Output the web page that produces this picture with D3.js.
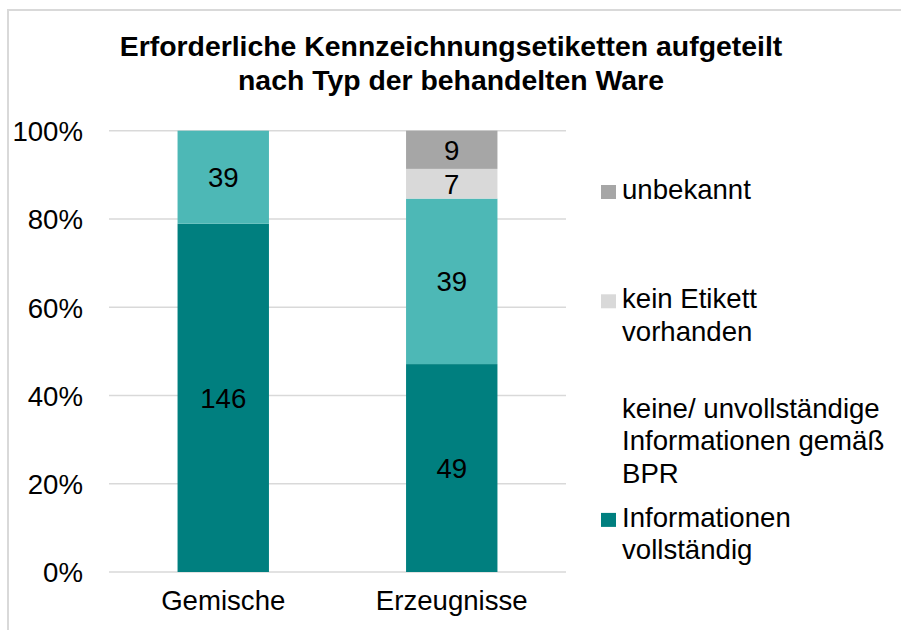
<!DOCTYPE html>
<html>
<head>
<meta charset="utf-8">
<script src="https://cdn.jsdelivr.net/npm/d3@7"></script>
<style>
  body { margin: 0; background: #fff; }
  svg { font-family: "Liberation Sans", Arial, sans-serif; }
</style>
</head>
<body>
<div id="chart"></div>
<script>
const titleLines = ['Erforderliche Kennzeichnungsetiketten aufgeteilt', 'nach Typ der behandelten Ware'];
const categories = ['Gemische', 'Erzeugnisse'];
const seriesNames = ['Informationen vollständig', 'keine/ unvollständige Informationen gemäß BPR', 'kein Etikett vorhanden', 'unbekannt'];
const legendLines = [['Informationen', 'vollständig'], ['keine/ unvollständige', 'Informationen gemäß', 'BPR'], ['kein Etikett', 'vorhanden'], ['unbekannt']];
const vollstaendig = [146, 49];
const unvollstaendig = [39, 39];
const keinEtikett = [0, 7];
const unbekannt = [0, 9];
const yTicks = [0, 0.2, 0.4, 0.6, 0.8, 1];
const colors = ['#007f7f', '#4db8b6', '#d9d9d9', '#a6a6a6'];
// the 2nd legend entry has no swatch in the original
const noSwatch = ['keine/ unvollständige Informationen gemäß BPR'];

const rows = categories.map((c, i) => ({
  cat: c,
  [seriesNames[0]]: vollstaendig[i],
  [seriesNames[1]]: unvollstaendig[i],
  [seriesNames[2]]: keinEtikett[i],
  [seriesNames[3]]: unbekannt[i]
}));

const W = 901, H = 630;
const fs = '27.6px';
const margin = { top: 130.7, right: 335, bottom: 58, left: 109 };
const width = W - margin.left - margin.right,
  height = H - margin.top - margin.bottom;

const svg = d3.select('#chart').append('svg')
  .attr('width', W).attr('height', H);

// chart frame
svg.append('rect')
  .attr('x', 8).attr('y', 10)
  .attr('width', W + 20).attr('height', H + 20)
  .attr('fill', 'none').attr('stroke', '#d9d9d9').attr('stroke-width', 2);

// title
svg.append('text')
  .attr('text-anchor', 'middle')
  .style('font-size', '28.4px').style('font-weight', 'bold')
  .selectAll('tspan').data(titleLines).join('tspan')
  .attr('x', 451).attr('y', (d, i) => 56 + i * 34)
  .text(d => d);

const g = svg.append('g').attr('transform', `translate(${margin.left},${margin.top})`);

const x = d3.scaleBand().domain(categories).range([0, width])
  .paddingInner(0.6).paddingOuter(0.3);
const y = d3.scaleLinear().domain([0, 1]).range([height, 0]);

// gridlines
g.append('g').selectAll('line').data(yTicks).join('line')
  .attr('x1', 0).attr('x2', width)
  .attr('y1', d => y(d)).attr('y2', d => y(d))
  .attr('stroke', '#d9d9d9').attr('stroke-width', 1.5);

// Y axis
g.append('g')
  .attr('transform', 'translate(-26,0)')
  .call(d3.axisLeft(y).tickValues(yTicks).tickSize(0).tickPadding(0)
    .tickFormat(d3.format('.0%')))
  .call(a => a.select('.domain').remove())
  .selectAll('text')
  .style('font-size', fs).style('font-family', '"Liberation Sans", Arial, sans-serif')
  .attr('fill', '#000').attr('dy', '0.36em');

// X axis labels
g.append('g')
  .attr('transform', `translate(0,${height})`)
  .call(d3.axisBottom(x).tickSize(0).tickPadding(28))
  .call(a => a.select('.domain').remove())
  .selectAll('text')
  .style('font-size', fs).style('font-family', '"Liberation Sans", Arial, sans-serif')
  .attr('fill', '#000').attr('dy', '0.36em');

// stacked bars (100%)
const stack = d3.stack().keys(seriesNames).offset(d3.stackOffsetExpand);
const layers = stack(rows);

const layer = g.append('g').selectAll('g').data(layers).join('g')
  .attr('fill', (d, i) => colors[i]);

layer.selectAll('rect').data(d => d).join('rect')
  .attr('x', d => x(d.data.cat))
  .attr('y', d => y(d[1]))
  .attr('width', x.bandwidth())
  .attr('height', d => y(d[0]) - y(d[1]));

// value labels
layers.forEach(l => {
  g.append('g').selectAll('text').data(l.filter(d => d.data[l.key] > 0)).join('text')
    .attr('x', d => x(d.data.cat) + x.bandwidth() / 2)
    .attr('y', d => (y(d[0]) + y(d[1])) / 2)
    .attr('dy', '0.36em')
    .attr('text-anchor', 'middle')
    .style('font-size', fs)
    .attr('fill', '#000')
    .text(d => d.data[l.key]);
});

// legend (top to bottom: reverse series order)
const legendOrder = seriesNames.map((s, i) => i).reverse();
const legend = svg.append('g');
legendOrder.forEach((si, k) => {
  const base = 199 + k * 109.3;
  const item = legend.append('g');
  if (!noSwatch.includes(seriesNames[si])) {
    item.append('rect')
      .attr('x', 601).attr('y', base - 14)
      .attr('width', 15).attr('height', 14)
      .attr('fill', colors[si]);
  }
  item.append('text')
    .style('font-size', fs)
    .selectAll('tspan').data(legendLines[si]).join('tspan')
    .attr('x', 622).attr('y', (d, i) => base + i * 32.5)
    .text(d => d);
});
</script>
</body>
</html>
